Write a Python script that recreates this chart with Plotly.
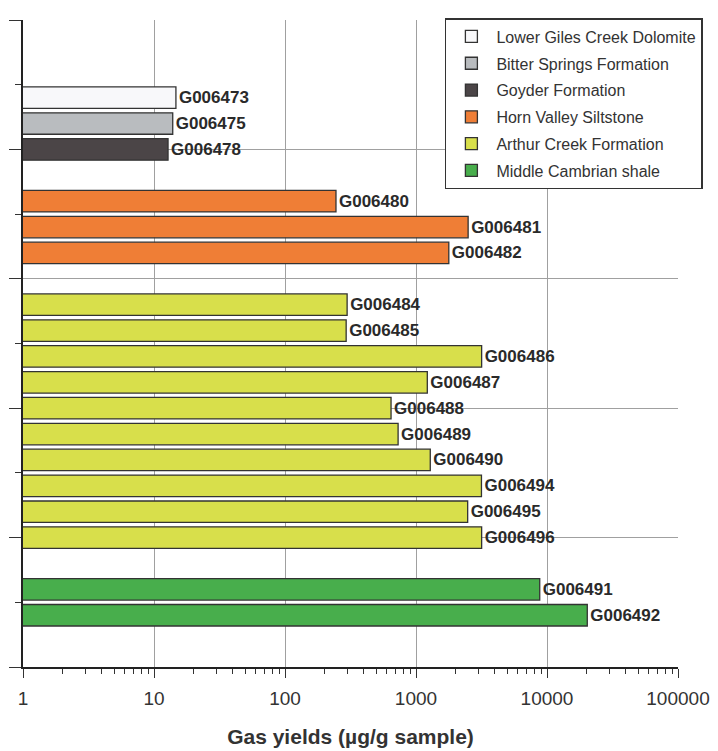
import plotly.graph_objects as go

# ---- data ----
formations = [
    "Lower Giles Creek Dolomite",
    "Bitter Springs Formation",
    "Goyder Formation",
    "Horn Valley Siltstone",
    "Arthur Creek Formation",
    "Middle Cambrian shale",
]
colors = ["#f8f8fa", "#b9bcbf", "#4b4547", "#ef7e36", "#d8df4b", "#48ae4c"]

samples = {
    "Lower Giles Creek Dolomite": ["G006473"],
    "Bitter Springs Formation": ["G006475"],
    "Goyder Formation": ["G006478"],
    "Horn Valley Siltstone": ["G006480", "G006481", "G006482"],
    "Arthur Creek Formation": ["G006484", "G006485", "G006486", "G006487", "G006488",
                               "G006489", "G006490", "G006494", "G006495", "G006496"],
    "Middle Cambrian shale": ["G006491", "G006492"],
}
gas_yield = {
    "Lower Giles Creek Dolomite": [14.7],
    "Bitter Springs Formation": [13.9],
    "Goyder Formation": [12.8],
    "Horn Valley Siltstone": [245, 2500, 1780],
    "Arthur Creek Formation": [298, 293, 3170, 1220, 645, 730, 1285, 3160, 2480, 3170],
    "Middle Cambrian shale": [8800, 20300],
}
# order of rows from top; None = empty row between blocks
row_order = ["G006473", "G006475", "G006478", None,
             "G006480", "G006481", "G006482", None,
             "G006484", "G006485", "G006486", "G006487", "G006488",
             "G006489", "G006490", "G006494", "G006495", "G006496", None,
             "G006491", "G006492"]

x_tickvals = [1, 10, 100, 1000, 10000, 100000]
x_ticktext = ["1", "10", "100", "1000", "10000", "100000"]

row_index = {s: i for i, s in enumerate(row_order) if s is not None}

fig = go.Figure()
for f, c in zip(formations, colors):
    fig.add_trace(go.Bar(
        orientation="h",
        x=gas_yield[f],
        y=[row_index[s] for s in samples[f]],
        text=samples[f],
        textposition="outside",
        cliponaxis=False,
        constraintext="none",
        textfont=dict(family="Arial, Liberation Sans", size=17, color="#2a2a2a", weight="bold"),
        marker=dict(color=c, line=dict(color="#333333", width=1.3)),
        width=0.83,
        name=f,
        legendgroup=f,
    ))

# page body adds an 8px offset, so the figure is sized 8px smaller
fig.update_layout(
    width=710, height=743,
    margin=dict(l=15, r=40, t=10, b=84),
    paper_bgcolor="white", plot_bgcolor="white",
    font=dict(family="Arial, Liberation Sans", color="#333333"),
    showlegend=True,
    legend=dict(
        x=1.038, xanchor="right", y=1.003, yanchor="top",
        bgcolor="white", bordercolor="#333333", borderwidth=1.5,
        font=dict(size=16, color="#333333"),
        tracegroupgap=3, traceorder="grouped", itemwidth=40,
    ),
    bargap=0.17,
)

fig.update_xaxes(
    type="log", range=[0, 5], automargin=False,
    tickmode="array", tickvals=x_tickvals, ticktext=x_ticktext,
    tickfont=dict(size=19, color="#333333"),
    ticks="outside", ticklen=9, tickcolor="#333333", tickwidth=1.3,
    ticklabelstandoff=4,
    minor=dict(ticks="outside", ticklen=5, dtick="D1", tickcolor="#333333", showgrid=False),
    showline=True, linecolor="#222222", linewidth=1.5,
    showgrid=True, gridcolor="#a0a0a0", gridwidth=1,
    zeroline=False,
    title=dict(text="<b>Gas yields (µg/g sample)</b>", font=dict(size=21, color="#333333"), standoff=22),
)
fig.update_yaxes(
    range=[22, -3], automargin=False,
    tickmode="linear", tick0=-3, dtick=5,
    showticklabels=False,
    ticks="outside", ticklen=12, tickcolor="#333333", tickwidth=1.3,
    minor=dict(ticks="outside", ticklen=6, tick0=-3, dtick=2.5, tickcolor="#333333", showgrid=False),
    showline=True, linecolor="#222222", linewidth=1.5,
    showgrid=True, gridcolor="#a0a0a0", gridwidth=1,
    zeroline=False,
)

fig.write_html("out.html")
